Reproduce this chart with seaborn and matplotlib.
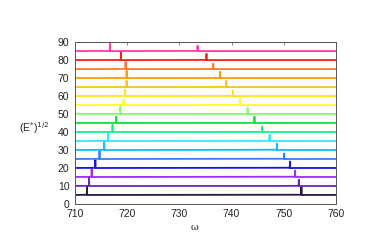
import numpy as np
import pandas as pd
import matplotlib
matplotlib.use("Agg")
import matplotlib.pyplot as plt
import seaborn as sns

# offsets (E*)^1/2 and the two peak positions
levels = [5, 10, 15, 20, 25, 30, 35, 40, 45, 50, 55, 60, 65, 70, 75, 80, 85]
peak_low = [712.3, 712.7, 713.2, 713.9, 714.7, 715.6, 716.3, 717.2, 717.9, 718.7,
            719.3, 719.6, 719.9, 719.9, 719.7, 718.8, 716.7]
peak_high = [753.4, 752.9, 752.2, 751.2, 750.1, 748.7, 747.3, 745.9, 744.4, 743.1,
             741.6, 740.3, 739.0, 737.8, 736.5, 735.2, 733.5]
height_low = [5.0, 4.5, 4.5, 4.5, 4.5, 4.5, 4.5, 4.0, 3.5, 4.0, 3.0, 3.5, 3.5, 4.0, 4.0, 4.5, 5.0]
height_high = [4.5, 3.5, 3.5, 3.5, 3.0, 3.5, 3.5, 3.0, 3.5, 3.5, 3.5, 3.0, 3.5, 3.5, 3.0, 3.5, 3.0]
colors = ["#2b1747", "#6a28b8", "#9b2ff5", "#1414e6", "#2a84ff", "#1ab8ff", "#28ecff",
          "#12f28c", "#10e03c", "#84ff66", "#ffff26", "#ffe21a", "#ffc21a", "#ff9a0a",
          "#ff7a2a", "#ff1a1a", "#ff3ca8"]

w = np.arange(710, 760.001, 0.004)
g = 0.012
rows = []
for lev, p1, p2, h1, h2 in zip(levels, peak_low, peak_high, height_low, height_high):
    y = lev * np.ones_like(w)
    for p, h in [(p1, h1), (p2, h2)]:
        d = w - p
        y += h * g**2 / (d**2 + g**2) - 0.8 * g * d / (d**2 + g**2)
    rows.append(pd.DataFrame({"omega": w, "val": y, "level": lev}))
df = pd.concat(rows, ignore_index=True)

sns.set_style("white")
plt.rcParams["font.family"] = ["Liberation Sans", "DejaVu Sans"]
fig = plt.figure(figsize=(3.74, 2.49), dpi=100)
ax = fig.add_axes([0.2005, 0.181, 0.6975, 0.65])
sns.lineplot(data=df, x="omega", y="val", hue="level", palette=colors,
             estimator=None, sort=False, linewidth=1.3, legend=False, ax=ax)

ax.set_xlim(710, 760)
ax.set_ylim(0, 90)
ax.set_xticks(range(710, 761, 10))
ax.set_yticks(range(0, 91, 10))
ax.tick_params(direction="in", length=2.5, width=0.5, color="#555555",
               labelsize=7.5, labelcolor="#222222", top=True, right=True, pad=4)
for s in ax.spines.values():
    s.set_linewidth(0.7)
    s.set_color("#555555")
ax.set_xlabel("ω", fontsize=7, family="DejaVu Serif")
ax.xaxis.set_label_coords(0.46, -0.115)
ax.set_ylabel("(E$^{*}$)$^{1/2}$", fontsize=7.5, rotation=0, va="center")
ax.yaxis.set_label_coords(-0.155, 0.47)

fig.savefig("out.png", dpi=100)
